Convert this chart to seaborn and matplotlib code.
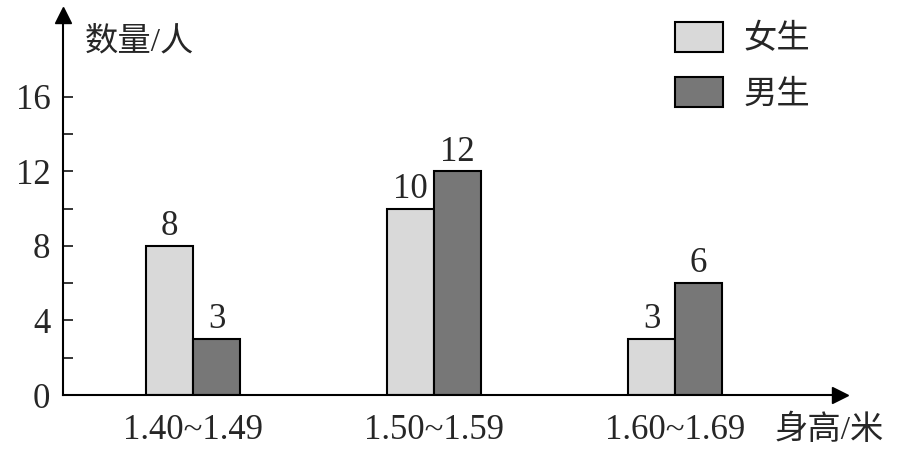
import pandas as pd
import seaborn as sns
import matplotlib
matplotlib.use("Agg")
import matplotlib.pyplot as plt

# heights (categories) and counts
height_groups = ["1.40~1.49", "1.50~1.59", "1.60~1.69"]
girls = [8, 10, 3]
boys = [3, 12, 6]
series_names = ["女生", "男生"]
series_colors = ["#d9d9d9", "#777777"]

df = pd.DataFrame({
    "group": height_groups * 2,
    "count": girls + boys,
    "sex": [series_names[0]] * 3 + [series_names[1]] * 3,
})

sns.set_style("white")
plt.rcParams["font.family"] = ["Liberation Serif", "Noto Sans CJK SC", "DejaVu Sans"]

fig = plt.figure(figsize=(9.06, 4.53), dpi=100)
ax = fig.add_axes([63 / 906, 58 / 453, 777 / 906, 380 / 453])

sns.barplot(data=df, x="group", y="count", hue="sex", palette=series_colors,
            width=0.39, edgecolor="black", linewidth=1.5, ax=ax, legend=True)

for c in ax.containers:
    ax.bar_label(c, padding=2, fontsize=25)

ax.set_xlim(-0.54, 2.685)
ax.set_ylim(0, 20.4)
ax.set_yticks([0, 4, 8, 12, 16])
ax.set_yticks([2, 6, 10, 14], minor=True)
ax.tick_params(axis="y", which="both", direction="in", length=7, width=1.3,
               left=True, labelsize=25, pad=9)
ax.tick_params(axis="x", length=0, labelsize=25, pad=14)
ax.set_xlabel("")
ax.set_ylabel("")

for s in ["top", "right"]:
    ax.spines[s].set_visible(False)
for s in ["left", "bottom"]:
    ax.spines[s].set_linewidth(1.5)
    ax.spines[s].set_color("black")

# arrow heads on the axes
ax.plot(1, 0, ">k", markersize=11, transform=ax.transAxes, clip_on=False)
ax.plot(0, 1, "^k", markersize=11, transform=ax.transAxes, clip_on=False)

handles, labels = ax.get_legend_handles_labels()
ax.legend(handles, labels, loc="upper left", bbox_to_anchor=(675 / 906, 1 - 22 / 453),
          bbox_transform=fig.transFigure, frameon=False, fontsize=24,
          handlelength=1.45, handleheight=1.0, labelspacing=0.65,
          handletextpad=0.6, borderpad=0, borderaxespad=0, title=None)

fig.text(85 / 906, 1 - 42 / 453, "数量/人", fontsize=24, va="center", ha="left")
fig.text(775 / 906, 1 - 430 / 453, "身高/米", fontsize=24, va="center", ha="left")

plt.savefig("out.png", dpi=100)
